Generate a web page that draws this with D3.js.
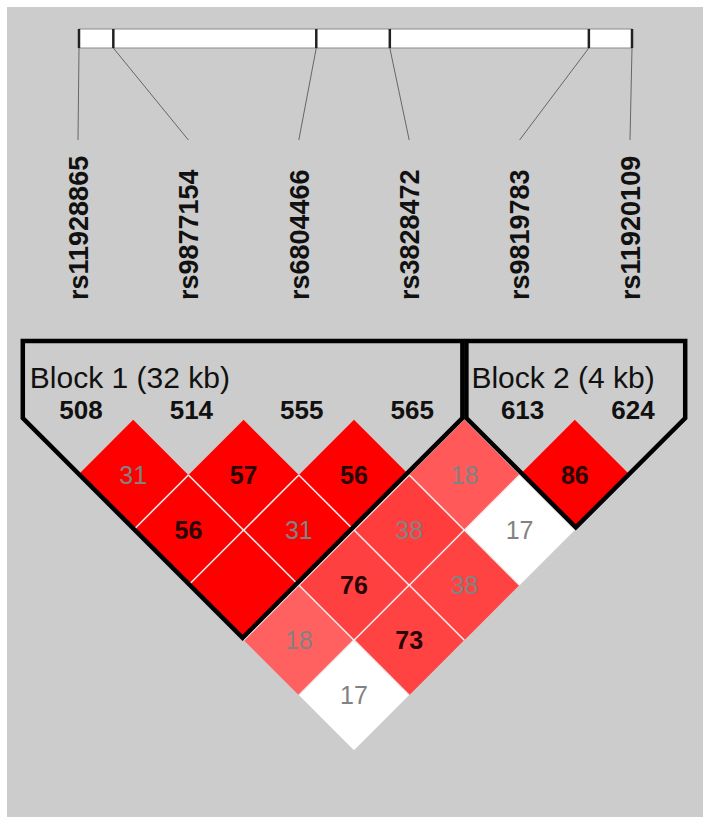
<!DOCTYPE html>
<html lang="en">
<head>
<meta charset="utf-8">
<title>LD plot</title>
<script src="https://cdn.jsdelivr.net/npm/d3@7"></script>
<style>
  body { margin: 0; background: #fff; }
  text { font-family: "Liberation Sans", Arial, sans-serif; }
</style>
</head>
<body>
<script>
// markers, left to right
var markers = ["rs11928865", "rs9877154", "rs6804466", "rs3828472", "rs9819783", "rs11920109"];
var markerNums = ["508", "514", "555", "565", "613", "624"];
// physical position along the region (kb)
var positionsKb = [0, 3.5, 24.2, 31.7, 52.0, 56.4];

// upper triangle, row i = marker i against markers i+1..n-1
var ldLabels = [
  [31, 56, "", 18, 17],
  [57, 31, 76, 73],
  [56, 38, 38],
  [18, 17],
  [86]
];
var dPrime = [
  [1, 1, 1, 0.62, 0.3],
  [1, 1, 0.75, 0.74],
  [1, 0.76, 0.74],
  [0.65, 0.3],
  [1]
];
var lod = [
  [5, 5, 5, 3, 1],
  [5, 5, 3, 3],
  [5, 3, 3],
  [3, 1],
  [5]
];

var blockStarts = [0, 4];
var blockEnds = [3, 5];
var blockLabels = ["Block 1 (32 kb)", "Block 2 (4 kb)"];

var w = 709, h = 825;
var svg = d3.select("body").append("svg")
  .attr("width", w)
  .attr("height", h);

svg.append("rect")
  .attr("x", 7).attr("y", 7)
  .attr("width", 696).attr("height", 810)
  .attr("fill", "#cccccc");

var n = markers.length;
var xIdx = d3.scaleLinear().domain([0, n - 1]).range([78, 630]);
var xPos = d3.scaleLinear().domain([0, d3.max(positionsKb)]).range([79, 632]);
var yDist = d3.scaleLinear().domain([0, n - 1]).range([420, 695]);
var half = (xIdx(1) - xIdx(0)) / 2;

//Physical map bar
var barTop = 29, barBot = 48;
svg.append("rect")
  .attr("x", xPos(0)).attr("y", barTop)
  .attr("width", xPos(d3.max(positionsKb)) - xPos(0))
  .attr("height", barBot - barTop)
  .attr("fill", "#ffffff")
  .attr("stroke", "#8a8a8a")
  .attr("stroke-width", 1);

svg.selectAll("line.tick")
  .data(positionsKb)
  .enter()
  .append("line")
  .attr("class", "tick")
  .attr("x1", function(d) { return xPos(d); })
  .attr("x2", function(d) { return xPos(d); })
  .attr("y1", barTop).attr("y2", barBot)
  .attr("stroke", "#222")
  .attr("stroke-width", 2.5);

svg.selectAll("line.connector")
  .data(positionsKb)
  .enter()
  .append("line")
  .attr("class", "connector")
  .attr("x1", function(d) { return xPos(d); })
  .attr("y1", barBot)
  .attr("x2", function(d, i) { return xIdx(i); })
  .attr("y2", 140)
  .attr("stroke", "#666")
  .attr("stroke-width", 1);

//Marker names
svg.selectAll("text.name")
  .data(markers)
  .enter()
  .append("text")
  .attr("class", "name")
  .attr("transform", function(d, i) { return "translate(" + xIdx(i) + ",300) rotate(-90)"; })
  .attr("dy", "0.36em")
  .attr("font-size", "27px")
  .attr("font-weight", "bold")
  .attr("fill", "#111")
  .text(function(d) { return d; });

//LD cells
var cells = [];
ldLabels.forEach(function(row, i) {
  row.forEach(function(v, k) {
    cells.push({ i: i, j: i + k + 1, label: v, dp: dPrime[i][k], lod: lod[i][k] });
  });
});

var red = d3.scaleLinear().domain([0, 1]).range(["#ffffff", "#ff0000"]);
function cellColor(c) {
  if (c.lod < 2 && c.dp < 1) return "#ffffff";
  return red(c.dp);
}
function cx(c) { return xIdx((c.i + c.j) / 2); }
function cy(c) { return yDist(c.j - c.i); }

svg.selectAll("path.cell")
  .data(cells)
  .enter()
  .append("path")
  .attr("class", "cell")
  .attr("d", function(c) {
    var x = cx(c), y = cy(c);
    return "M" + x + "," + (y - half) + "L" + (x + half) + "," + y +
           "L" + x + "," + (y + half) + "L" + (x - half) + "," + y + "Z";
  })
  .attr("fill", cellColor);

// light separators on shared edges only
svg.selectAll("line.sepR")
  .data(cells.filter(function(c) { return c.j < n - 1; }))
  .enter()
  .append("line")
  .attr("x1", function(c) { return cx(c) + half; })
  .attr("y1", function(c) { return cy(c); })
  .attr("x2", function(c) { return cx(c); })
  .attr("y2", function(c) { return cy(c) + half; })
  .attr("stroke", "#ececec")
  .attr("stroke-width", 1.6);

svg.selectAll("line.sepL")
  .data(cells.filter(function(c) { return c.i > 0; }))
  .enter()
  .append("line")
  .attr("x1", function(c) { return cx(c) - half; })
  .attr("y1", function(c) { return cy(c); })
  .attr("x2", function(c) { return cx(c); })
  .attr("y2", function(c) { return cy(c) + half; })
  .attr("stroke", "#ececec")
  .attr("stroke-width", 1.6);

svg.selectAll("text.val")
  .data(cells)
  .enter()
  .append("text")
  .attr("class", "val")
  .attr("x", cx)
  .attr("y", cy)
  .attr("dy", "0.36em")
  .attr("text-anchor", "middle")
  .attr("font-size", "25px")
  .attr("font-weight", function(c) { return c.label >= 50 ? "bold" : "normal"; })
  .attr("fill", function(c) { return c.label >= 50 ? "#2a0505" : "#828282"; })
  .text(function(c) { return c.label; });

//Block outlines
var outlineTop = 341, cornerY = 418;
svg.selectAll("path.block")
  .data(blockStarts)
  .enter()
  .append("path")
  .attr("class", "block")
  .attr("d", function(s, b) {
    var xl = xIdx(s - 0.5) + (b > 0 ? 2 : 0);
    var xr = xIdx(blockEnds[b] + 0.5) - (b < blockStarts.length - 1 ? 2 : 0);
    var ax = (xl + xr) / 2, ay = cornerY + (xr - xl) / 2;
    return "M" + xl + "," + outlineTop + "L" + xl + "," + cornerY + "L" + ax + "," + ay +
           "L" + xr + "," + cornerY + "L" + xr + "," + outlineTop + "Z";
  })
  .attr("fill", "none")
  .attr("stroke", "#000")
  .attr("stroke-width", 4.5)
  .attr("stroke-linejoin", "miter");

svg.selectAll("text.blockLabel")
  .data(blockLabels)
  .enter()
  .append("text")
  .attr("class", "blockLabel")
  .attr("x", function(d, b) { return xIdx(blockStarts[b] - 0.5) + 7; })
  .attr("y", 388)
  .attr("font-size", "30px")
  .attr("fill", "#111")
  .text(function(d) { return d; });

svg.selectAll("text.num")
  .data(markerNums)
  .enter()
  .append("text")
  .attr("class", "num")
  .attr("x", function(d, i) { return xIdx(i) + 3; })
  .attr("y", 419)
  .attr("text-anchor", "middle")
  .attr("font-size", "26px")
  .attr("font-weight", "bold")
  .attr("fill", "#111")
  .text(function(d) { return d; });
</script>
</body>
</html>
